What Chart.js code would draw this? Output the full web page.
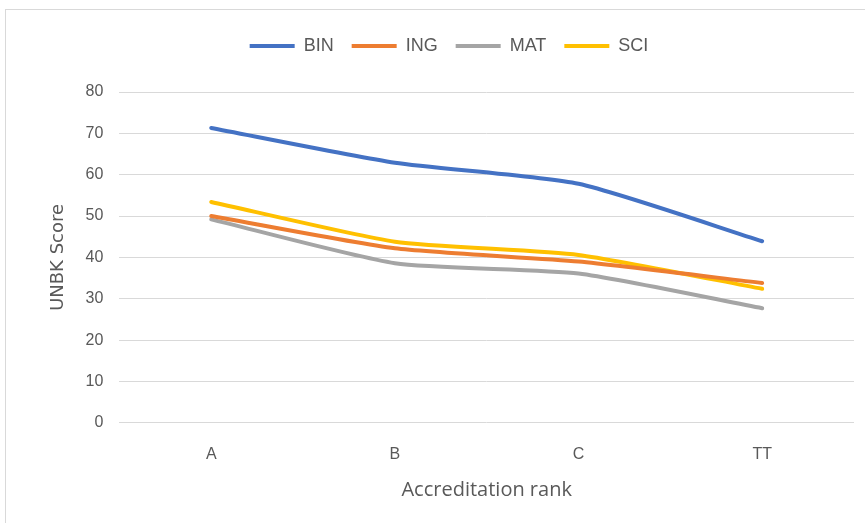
<!DOCTYPE html>
<html>
<head>
<meta charset="utf-8">
<script src="https://cdn.jsdelivr.net/npm/chart.js@4/dist/chart.umd.min.js"></script>
<style>
    body { margin: 0; background: #fff; }
    #frame { position: absolute; left: 5px; top: 9px; width: 870px; height: 520px; border: 1px solid #d9d9d9; }
    #wrap { position: absolute; left: 0; top: 0; width: 865px; height: 523px; }
</style>
</head>
<body>
<div id="frame"></div>
<div id="wrap"><canvas id="chart" width="865" height="523"></canvas></div>
<script>
const ranks = ['A', 'B', 'C', 'TT'];
const bin = [71.3, 62.9, 57.8, 43.9];
const ing = [50.0, 42.2, 39.0, 33.8];
const mat = [49.2, 38.6, 36.1, 27.7];
const sci = [53.4, 43.8, 40.6, 32.4];
const yTicks = [0, 10, 20, 30, 40, 50, 60, 70, 80];

const FONT = "'Liberation Sans Narrow', 'Liberation Sans', sans-serif";
const GREY = '#595959';

function series(label, values, color) {
    return {
        label: label,
        data: values,
        borderColor: color,
        backgroundColor: color,
        borderWidth: 4,
        borderCapStyle: 'round',
        pointRadius: 0,
        tension: 0.2
    };
}

// push the plot area down below the legend
const legendGap = {
    id: 'legendGap',
    beforeInit(chart) {
        const fit = chart.legend.fit;
        chart.legend.fit = function () {
            fit.bind(chart.legend)();
            this.height += 27;
        };
    }
};

new Chart(document.getElementById('chart').getContext('2d'), {
    type: 'line',
    data: {
        labels: ranks,
        datasets: [
            series('BIN', bin, '#4472C4'),
            series('ING', ing, '#ED7D31'),
            series('MAT', mat, '#A5A5A5'),
            series('SCI', sci, '#FFC000')
        ]
    },
    plugins: [legendGap],
    options: {
        responsive: false,
        animation: false,
        layout: { padding: { left: 44, right: 11, top: 19, bottom: 17 } },
        plugins: {
            legend: {
                position: 'top',
                labels: {
                    usePointStyle: true,
                    pointStyle: 'line',
                    pointStyleWidth: 45,
                    boxWidth: 45,
                    padding: 18,
                    color: GREY,
                    font: { family: FONT, size: 18 }
                }
            },
            tooltip: { enabled: false }
        },
        scales: {
            x: {
                offset: true,
                grid: { display: false },
                border: { display: false },
                ticks: { color: GREY, font: { family: FONT, size: 16 }, padding: 14 },
                title: { display: true, text: 'Accreditation rank', color: GREY, font: { family: "'Open Sans', sans-serif", size: 20 }, padding: { top: 0 } }
            },
            y: {
                min: 0,
                max: 80,
                afterBuildTicks: axis => { axis.ticks = yTicks.map(v => ({ value: v })); },
                grid: { color: '#d9d9d9', lineWidth: 1, drawTicks: false },
                border: { display: false },
                ticks: { color: GREY, font: { family: FONT, size: 16 }, padding: 16 },
                title: { display: true, text: 'UNBK Score', color: GREY, font: { family: "'DejaVu Sans', sans-serif", size: 18 }, padding: { bottom: 0 } }
            }
        }
    }
});
</script>
</body>
</html>
